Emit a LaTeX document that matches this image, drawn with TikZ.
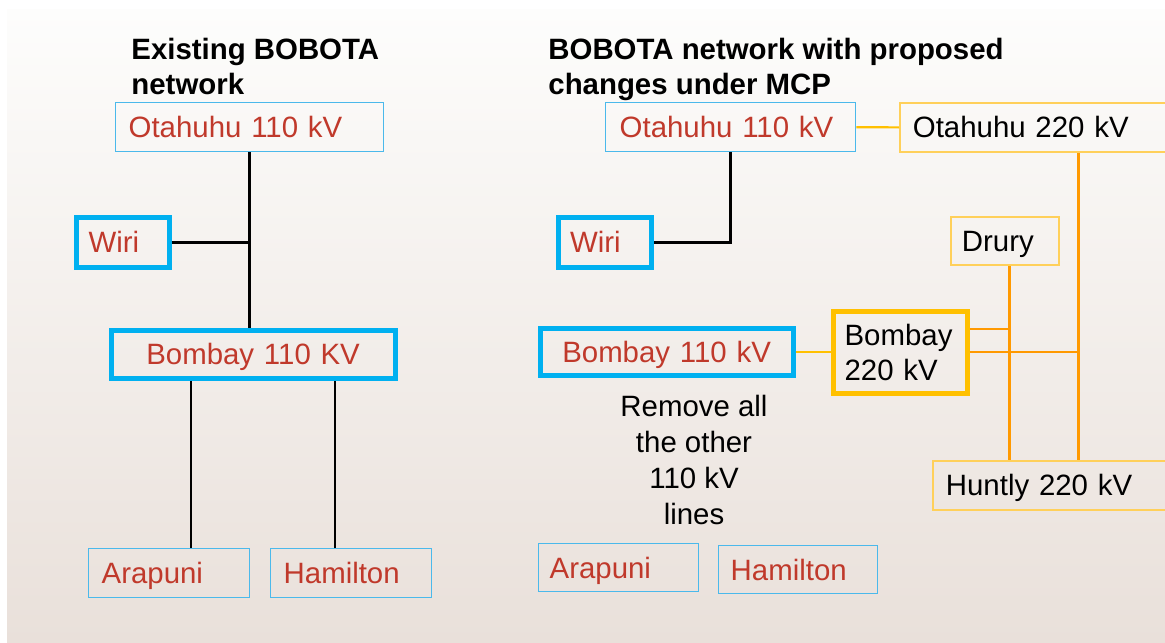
\documentclass[tikz,border=0pt]{standalone}
\usepackage{fontspec}
\setmainfont{Liberation Sans}
\usetikzlibrary{positioning,calc}

\definecolor{bluethick}{RGB}{0,176,240}
\definecolor{bluethin}{RGB}{75,185,235}
\definecolor{redtext}{RGB}{192,57,43}
\definecolor{goldthick}{RGB}{255,192,0}
\definecolor{goldthin}{RGB}{255,208,90}
\definecolor{orangeline}{RGB}{255,153,0}
\definecolor{bgtop}{RGB}{253,253,252}
\definecolor{bgbot}{RGB}{233,224,218}

\begin{document}
\begin{tikzpicture}[
    x=0.5pt, y=-0.5pt,
    stn/.style={rectangle, anchor=north west, inner ysep=0pt, align=left, font=\fontsize{14.7}{17.5}\selectfont},
    oneline/.style={text height=10.5pt, text depth=0pt},
    thinblue/.style={stn, oneline, draw=bluethin, line width=0.7pt, text=redtext},
    thickblue/.style={stn, oneline, draw=bluethick, line width=2.6pt, text=redtext},
    thingold/.style={stn, oneline, draw=goldthin, line width=0.9pt},
    thickgold/.style={stn, draw=goldthick, line width=2.6pt},
    title/.style={anchor=north west, inner sep=0pt, align=left, font=\fontsize{14.7}{17.5}\selectfont\bfseries},
    line110/.style={line width=1.4pt, black},
    line220/.style={line width=1.3pt, orangeline},
    tie/.style={line width=1.1pt, goldthick}
]
    \useasboundingbox (0,0) rectangle (1165,642);
    \clip (0,0) rectangle (1165,642);
    \shade[top color=bgtop, bottom color=bgbot] (7,10) rectangle (1165,642);

    % Existing network
    \node[title] (lTitle) at (131,38) {Existing BOBOTA\\network};
    \node[thinblue, text width=121pt, inner xsep=6.5pt, minimum height=24.5pt] (lOta) at (115,102) {Otahuhu 110 kV};
    \node[thickblue, text width=34pt, inner xsep=6.25pt, minimum height=25pt] (lWiri) at (73.5,214.5) {Wiri};
    \node[thickblue, align=center, text width=136pt, inner xsep=3pt, minimum height=24pt] (lBom) at (108.5,327.5) {Bombay 110 KV};
    \node[thinblue, text width=67.5pt, inner xsep=6.5pt, minimum height=24.5pt] (lArap) at (88,548) {Arapuni};
    \node[thinblue, text width=67.5pt, inner xsep=6.5pt, minimum height=24.5pt] (lHam) at (270,548) {Hamilton};

    % Proposed network
    \node[title] (rTitle) at (548,38) {BOBOTA network with proposed\\changes under MCP};
    \node[thinblue, text width=111pt, inner xsep=7pt, minimum height=24.5pt] (rOta) at (605,102) {Otahuhu 110 kV};
    \node[thingold, text width=125pt, inner xsep=6.5pt, minimum height=24.5pt] (rOta220) at (899,102) {Otahuhu 220 kV};
    \node[thickblue, text width=34.5pt, inner xsep=6pt, minimum height=25pt] (rWiri) at (555.5,214.5) {Wiri};
    \node[thingold, text width=43pt, inner xsep=5.5pt, minimum height=24pt] (drury) at (950,216) {Drury};
    \node[thickgold, text width=55.5pt, inner xsep=5.75pt, minimum height=41pt] (rBom220) at (830.5,308.5) {Bombay\\220 kV};
    \node[thickblue, align=center, text width=120.5pt, inner xsep=3pt, minimum height=23.5pt] (rBom) at (537.5,325.5) {Bombay 110 kV};
    \node[thingold, text width=108.5pt, inner xsep=6.5pt, minimum height=24.5pt] (huntly) at (932,460) {Huntly 220 kV};
    \node[align=center, inner sep=0pt, font=\fontsize{14.7}{18}\selectfont] (note) at (694,460) {Remove all\\the other\\110 kV\\lines};
    \node[thinblue, text width=69pt, inner xsep=5.5pt, minimum height=24pt] (rArap) at (538,543) {Arapuni};
    \node[thinblue, text width=67.25pt, inner xsep=6.25pt, minimum height=24pt] (rHam) at (717.5,545) {Hamilton};

    % Existing 110 kV lines
    \draw[line110] (lOta.south) -- (lOta.south |- lBom.north);
    \draw[line110] (lWiri.east) -- (lWiri.east -| lOta.south);
    \coordinate (lArapTop) at ($(lArap.north west)!0.634!(lArap.north east)$);
    \coordinate (lHamTop) at ($(lHam.north west)!0.4!(lHam.north east)$);
    \draw[line110] (lArapTop) -- (lArapTop |- lBom.south);
    \draw[line110] (lHamTop) -- (lHamTop |- lBom.south);

    % Proposed lines
    \draw[line110] (rOta.south) |- (rWiri.east);
    \draw[tie] (rOta.east) -- (rOta220.west);
    \draw[tie] (rBom.east) -- (rBom.east -| rBom220.west);
    \coordinate (druryDrop) at ($(drury.south west)!0.54!(drury.south east)$);
    \coordinate (otaDrop) at ($(rOta220.south west)!0.647!(rOta220.south east)$);
    \coordinate (bomTap) at ($(rBom220.north east)!0.234!(rBom220.south east)$);
    \draw[line220] (druryDrop) -- (druryDrop |- huntly.north);
    \draw[line220] (otaDrop) -- (otaDrop |- huntly.north);
    \draw[line220] (bomTap) -- (bomTap -| druryDrop);
    \draw[line220] (rBom220.east) -- (rBom220.east -| otaDrop);
\end{tikzpicture}
\end{document}
